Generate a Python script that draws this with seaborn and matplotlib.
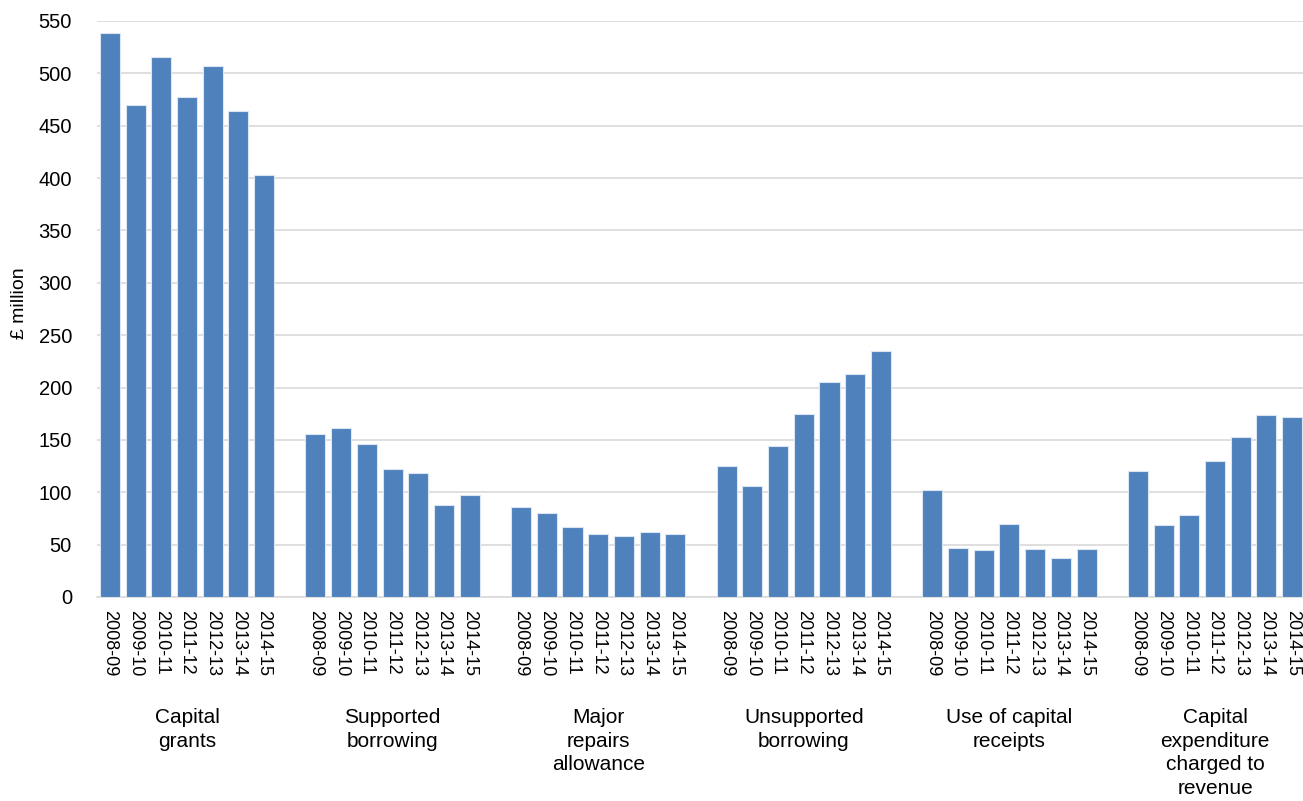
import matplotlib
matplotlib.use('Agg')
import matplotlib.pyplot as plt
import pandas as pd
import seaborn as sns

# Data (£ million)
years = ['2008-09', '2009-10', '2010-11', '2011-12', '2012-13', '2013-14', '2014-15']
sources = ['Capital\ngrants', 'Supported\nborrowing', 'Major\nrepairs\nallowance',
           'Unsupported\nborrowing', 'Use of capital\nreceipts',
           'Capital\nexpenditure\ncharged to\nrevenue']
capital_grants = [539, 470, 516, 477, 507, 464, 403]
supported_borrowing = [156, 161, 146, 122, 118, 88, 97]
major_repairs = [86, 80, 67, 60, 58, 62, 60]
unsupported_borrowing = [125, 106, 144, 175, 205, 213, 235]
capital_receipts = [102, 47, 45, 70, 46, 37, 46]
revenue_funded = [120, 69, 78, 130, 153, 174, 172]

series = [capital_grants, supported_borrowing, major_repairs,
          unsupported_borrowing, capital_receipts, revenue_funded]

# one empty slot between groups
rows = []
for g, vals in enumerate(series):
    for i, v in enumerate(vals):
        rows.append({'pos': g * 8 + i, 'year': years[i], 'source': sources[g], 'value': v})
df = pd.DataFrame(rows)

sns.set_style('white')
plt.rcParams['font.family'] = ['Liberation Sans', 'DejaVu Sans']
plt.rcParams['text.color'] = 'black'
plt.rcParams['xtick.color'] = 'black'
plt.rcParams['ytick.color'] = 'black'

W, H = 1303, 801
fig = plt.figure(figsize=(W / 100, H / 100), dpi=100)
ax = fig.add_axes([97 / W, 1 - 597 / H, 1208 / W, 576 / H])

sns.barplot(data=df, x='pos', y='value', native_scale=True, width=0.78,
            color='#4F81BD', saturation=1, edgecolor='#dce6f2', linewidth=0.8,
            ax=ax, zorder=3)

ax.set_xlim(-0.5, 46.5)
ax.set_ylim(0, 550)
ax.set_yticks(range(0, 551, 50))
ax.yaxis.grid(True, color='#d9d9d9', linewidth=1.2, zorder=0)
ax.set_axisbelow(True)
for s in ['top', 'right', 'left']:
    ax.spines[s].set_visible(False)
ax.spines['bottom'].set_color('#d9d9d9')
ax.spines['bottom'].set_linewidth(1.2)

ax.set_xticks(df['pos'])
ax.set_xticklabels(df['year'], rotation=270, fontsize=13)
ax.tick_params(axis='x', length=0, pad=9)
ax.tick_params(axis='y', length=0, pad=18, labelsize=14.5)
ax.set_xlabel('')
ax.set_ylabel('')

fig.text(20 / W, 1 - 303 / H, '£ million', rotation=90, ha='center', va='center', fontsize=14)

for g, name in enumerate(sources):
    ax.text(g * 8 + 3, -0.193, name, transform=ax.get_xaxis_transform(),
            ha='center', va='top', fontsize=15, linespacing=1.3)

fig.savefig('out.png', dpi=100)
